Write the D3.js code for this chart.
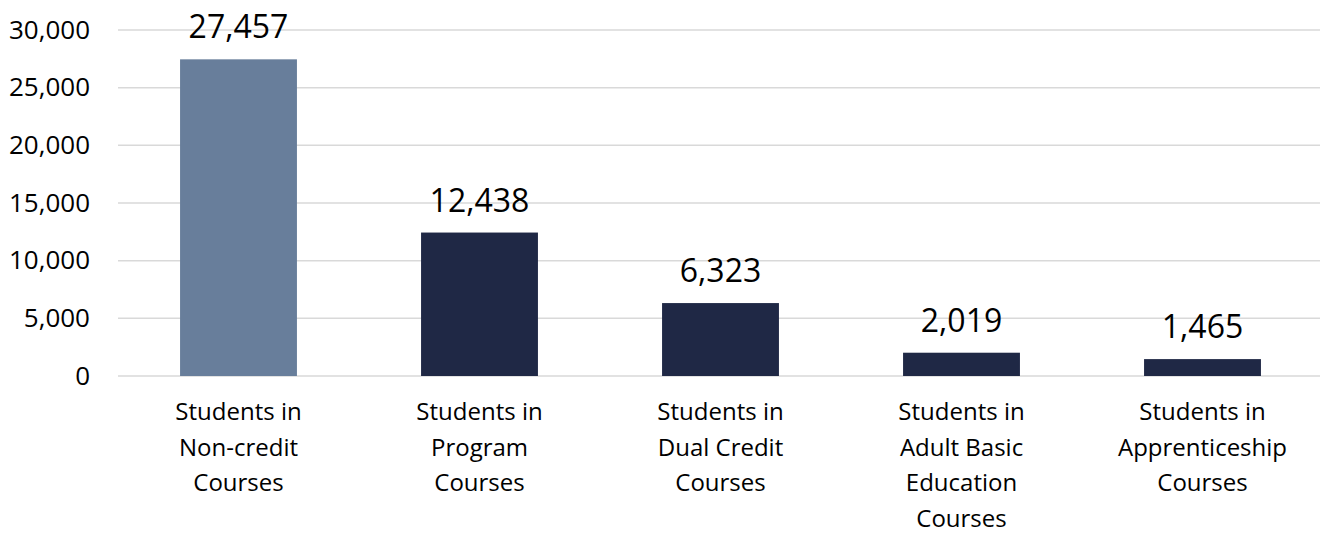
<!DOCTYPE html>
<html>
<head>
<meta charset="utf-8">
<script src="https://cdn.jsdelivr.net/npm/d3@7"></script>
<style>
  body { margin: 0; background: #fff; }
  text { font-family: "Open Sans", "Noto Sans", sans-serif; fill: #000; }
</style>
</head>
<body>
<div id="chart"></div>
<script>
const categories = ["Non-credit", "Program", "Dual Credit", "Adult Basic Education", "Apprenticeship"];
const values = [27457, 12438, 6323, 2019, 1465];
const categoryLines = [
    ["Students in", "Non-credit", "Courses"],
    ["Students in", "Program", "Courses"],
    ["Students in", "Dual Credit", "Courses"],
    ["Students in", "Adult Basic", "Education", "Courses"],
    ["Students in", "Apprenticeship", "Courses"]
];
const yTicks = [0, 5000, 10000, 15000, 20000, 25000, 30000];
const barColors = ["#687e9b", "#1f2845", "#1f2845", "#1f2845", "#1f2845"];

const width = 1320, height = 533;
const margin = { top: 30, right: 0, bottom: 157, left: 118 };
const innerW = 1205, innerH = height - margin.top - margin.bottom;

const svg = d3.select("#chart").append("svg")
    .attr("width", width)
    .attr("height", height)
    .append("g")
    .attr("transform", `translate(${margin.left},${margin.top})`);

const x = d3.scaleBand()
    .domain(categories)
    .range([0, innerW])
    .paddingInner(0.515)
    .paddingOuter(0.2575);

const y = d3.scaleLinear()
    .domain([0, 30000])
    .range([innerH, 0]);

// gridlines
svg.append("g")
    .selectAll("line")
    .data(yTicks)
    .enter()
    .append("line")
    .attr("x1", 0)
    .attr("x2", innerW)
    .attr("y1", d => y(d))
    .attr("y2", d => y(d))
    .attr("stroke", "#d9d9d9")
    .attr("stroke-width", 1.5);

// y axis labels
const fmt = d3.format(",");
const yAxis = svg.append("g")
    .call(d3.axisLeft(y).tickValues(yTicks).tickFormat(fmt).tickSize(0).tickPadding(28));
yAxis.select(".domain").remove();
yAxis.selectAll("text")
    .style("font-family", "'Open Sans', 'Noto Sans', sans-serif")
    .style("font-size", "26px")
    .attr("fill", "#000");

// bars
svg.selectAll("rect.bar")
    .data(values)
    .enter()
    .append("rect")
    .attr("class", "bar")
    .attr("x", (d, i) => x(categories[i]))
    .attr("y", d => y(d))
    .attr("width", x.bandwidth())
    .attr("height", d => innerH - y(d))
    .attr("fill", (d, i) => barColors[i]);

// value labels
svg.selectAll("text.val")
    .data(values)
    .enter()
    .append("text")
    .attr("class", "val")
    .attr("x", (d, i) => x(categories[i]) + x.bandwidth() / 2)
    .attr("y", d => y(d) - 21)
    .attr("text-anchor", "middle")
    .style("font-size", "32px")
    .text(d => fmt(d));

// category labels (x axis)
const xAxis = svg.append("g")
    .attr("transform", `translate(0,${innerH})`)
    .call(d3.axisBottom(x).tickSize(0).tickFormat(""));
xAxis.select(".domain").remove();
xAxis.selectAll(".tick").each(function (d, i) {
    const t = d3.select(this).append("text")
        .attr("text-anchor", "middle")
        .attr("fill", "#000")
        .style("font-size", "24px");
    categoryLines[i].forEach((line, j) => {
        t.append("tspan")
            .attr("x", 0)
            .attr("y", 44 + j * 35.5)
            .text(line);
    });
});
</script>
</body>
</html>
